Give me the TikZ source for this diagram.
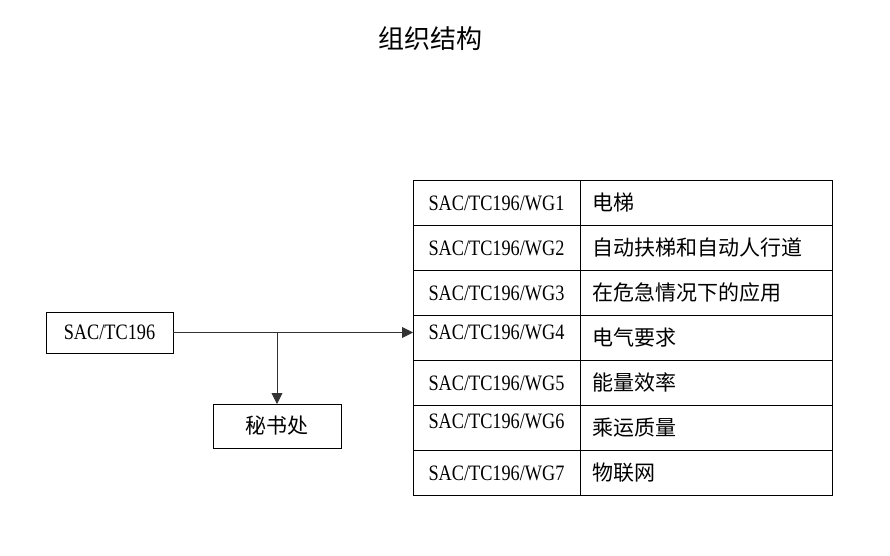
\documentclass[tikz,border=0pt]{standalone}
\usepackage{fontspec}
\setmainfont{Liberation Serif}[FakeStretch=0.83]
\newfontfamily\cjk{Noto Sans CJK SC}
\usetikzlibrary{
  arrows.meta,
  positioning
}
\tikzset{
  orgbox/.style={draw, line width=1pt, inner sep=0pt, outer sep=0pt, align=center},
  latintext/.style={font=\fontsize{22}{24}\selectfont},
  cjktext/.style={font=\cjk\fontsize{21}{24}\selectfont},
  titletext/.style={font=\cjk\fontsize{26}{28}\selectfont},
  codecell/.style={orgbox, latintext, minimum width=167pt, minimum height=45pt},
  namecell/.style={orgbox, cjktext, minimum width=252pt, minimum height=45pt,
    inner xsep=12pt, text width=228pt, align=left},
  flow/.style={-{Triangle[length=11pt, width=11pt]}, line width=0.9pt, black!80}
}
\begin{document}
\begin{tikzpicture}[x=1pt, y=-1pt]
  \useasboundingbox (0,0) rectangle (890,555);
  \node[titletext] (title) at (430,39) {组织结构};
  \node[orgbox, latintext, minimum width=127pt, minimum height=41pt] (tc) at (109.5,332.5) {SAC/TC196};
  \node[orgbox, cjktext, minimum width=128pt, minimum height=44pt] (sec) at (277,426) {秘书处};
  % working groups
  \foreach \n/\name/\dy in {1/电梯/-1, 2/自动扶梯和自动人行道/-1, 3/在危急情况下的应用/-1,
      4/电气要求/5, 5/能量效率/-1, 6/乘运质量/6, 7/物联网/-1} {
    \node[codecell] (wg\n) at (496.5,{157.5+45*\n}) {\raisebox{\dy pt}[\height][\depth]{SAC/TC196/WG\n}};
    \node[namecell, right=0pt of wg\n] (name\n) {\name};
  }
  \draw[flow] (tc.east) -- (tc.east -| wg4.west);
  \draw[flow] (tc.east -| sec.north) -- (sec.north);
\end{tikzpicture}
\end{document}
